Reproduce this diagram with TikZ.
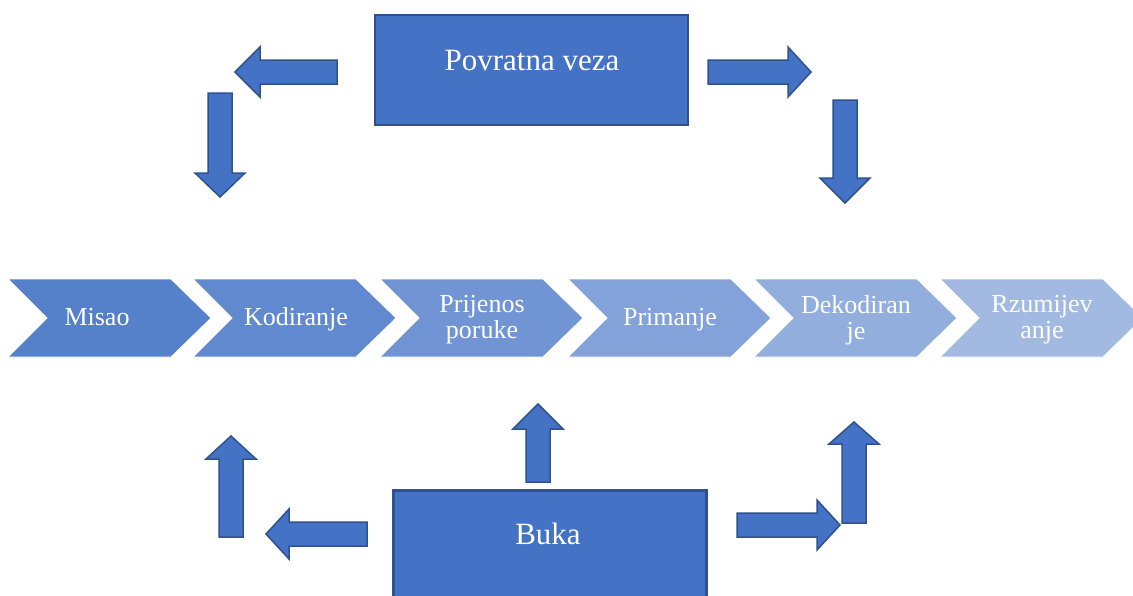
\documentclass[tikz,border=0pt]{standalone}
\usepackage{fontspec}
\setmainfont{Liberation Serif}
\definecolor{c1}{HTML}{5580CA}
\definecolor{c2}{HTML}{6189CF}
\definecolor{c3}{HTML}{7195D4}
\definecolor{c4}{HTML}{82A2D9}
\definecolor{c5}{HTML}{91AEDD}
\definecolor{c6}{HTML}{A2BAE2}
\definecolor{boxblue}{HTML}{4472C4}
\definecolor{boxedge}{HTML}{2F528F}
\newcommand{\blockarrow}[4]{%
  \draw[barrowstyle, shift={#1}, rotate=#2] (0,-12) -- ({#3-#4},-12) -- ({#3-#4},-25) -- (#3,0) -- ({#3-#4},25) -- ({#3-#4},12) -- (0,12) -- cycle;}
\newcommand{\chevronshape}[2]{%
  \path[chev, fill=#2] (#1,279) -- ++(163,0) -- ++(40,39) -- ++(-40,39) -- ++(-163,0) -- ++(39,-39) -- cycle;}
\begin{document}
\begin{tikzpicture}[x=1pt,y=-1pt,
  barrowstyle/.style={fill=boxblue, draw=boxedge, line width=1.5pt, line join=miter},
  boxstyle/.style={fill=boxblue, draw=boxedge, line width=2.5pt, minimum width=313pt, minimum height=110pt, inner sep=0pt},
  chev/.style={draw=white, line width=0.8pt},
  chevtext/.style={text=white, font=\fontsize{26}{26}\selectfont, align=center, inner sep=0pt},
  boxtext/.style={text=white, font=\fontsize{31}{34}\selectfont, inner sep=0pt}]
\useasboundingbox (0,0) rectangle (1133,595);
\clip (0,0) rectangle (1133,595);
\fill[white] (0,0) rectangle (1133,595);
% chevrons
\chevronshape{8}{c1}
\chevronshape{193}{c2}
\chevronshape{380}{c3}
\chevronshape{568}{c4}
\chevronshape{754}{c5}
\chevronshape{940}{c6}
\node[chevtext, anchor=base] (t1) at (97,325) {Misao};
\node[chevtext, anchor=base] (t2) at (296,325) {Kodiranje};
\node[chevtext] (t3) at (482,320) {Prijenos\\poruke};
\node[chevtext, anchor=base] (t4) at (670,325) {Primanje};
\node[chevtext] (t5) at (856,320) {Dekodiran\\je};
\node[chevtext] (t6) at (1042,320) {Rzumijev\\anje};
% boxes
\node[boxstyle] (pv) at (531.5,70) {};
\node[boxtext] (pvt) at (532,60) {Povratna veza};
\node[boxstyle, anchor=north west] (bu) at (392,489) {};
\node[boxtext] (but) at (548,534) {Buka};
% block arrows
\blockarrow{(337,72)}{180}{102}{25}
\blockarrow{(220,93)}{-90}{104}{24}
\blockarrow{(708,72)}{0}{103}{23}
\blockarrow{(845,100)}{-90}{103}{25}
\blockarrow{(231,537)}{90}{101}{23}
\blockarrow{(367,534)}{180}{101}{23}
\blockarrow{(538,482)}{90}{78}{25}
\blockarrow{(737,525)}{0}{103}{23}
\blockarrow{(854,523)}{90}{101}{22}
\end{tikzpicture}
\end{document}
